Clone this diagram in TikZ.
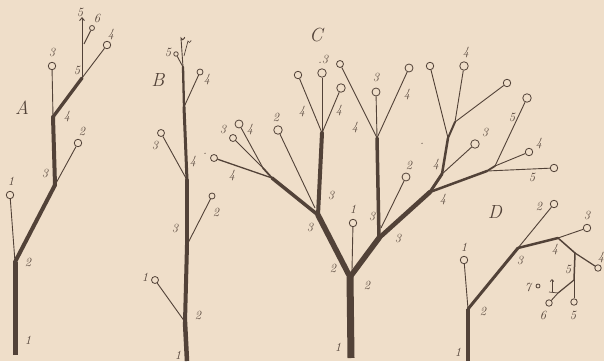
\documentclass[tikz,border=0pt]{standalone}
\usetikzlibrary{arrows.meta}
\definecolor{bg}{RGB}{239,222,201}
\definecolor{ink}{RGB}{82,66,56}
\begin{document}
\begin{tikzpicture}[x=1pt,y=-1pt,
  bud/.style={circle,draw=ink,fill=bg,inner sep=0pt,minimum size=#1,line width=0.8pt},
  bud/.default=7.5pt,
  thin/.style={draw=ink,line width=0.9pt},
  br/.style={draw=ink,line width=#1,line cap=round},
  lbl/.style={text=ink,font=\fontsize{12.5}{12.5}\selectfont\itshape,inner sep=0pt},
  big/.style={text=ink,font=\fontsize{19}{19}\selectfont\itshape,inner sep=0pt}]
\fill[bg] (0,0) rectangle (604,361);
\useasboundingbox (0,0) rectangle (604,361);

% ================= A =================
\coordinate (a0) at (15,355);
\coordinate (a2) at (15,262);
\coordinate (a3) at (55,185);
\coordinate (a4) at (53,117);
\coordinate (a5) at (82,78);
\coordinate (a6) at (84,44);
\coordinate (a7) at (82,17);
\node[bud] (A1) at (10,195) {};
\node[bud] (A2) at (78,143) {};
\node[bud] (A3) at (52,66) {};
\node[bud] (A4) at (107,45) {};
\node[bud=5pt] (A6) at (92,28) {};
\draw[br=5pt,line cap=butt] (a0) -- (a2);
\draw[thin] (a2) -- (A1);
\draw[br=4pt] (a2) -- (a3);
\draw[thin] (a3) -- (A2);
\draw[br=4pt] (a3) -- (a4);
\draw[thin] (a4) -- (A3);
\draw[br=3.3pt] (a4) -- (a5);
\draw[thin] (a5) -- (A4);
\draw[thin,-{Straight Barb[length=3pt,width=5pt]}] (a5) -- (a7);
\draw[thin] (a6) -- (A6);
\node[lbl] (la1) at (11,181) {1};
\node[lbl] (la2) at (28,262) {2};
\node[lbl] (la0) at (28,340) {1};
\node[lbl] (la3) at (45,173) {3};
\node[lbl] (la2b) at (82,131) {2};
\node[lbl] (la4) at (67,117) {4};
\node[lbl] (la3b) at (52,52) {3};
\node[lbl] (la5) at (77,70) {5};
\node[lbl] (la4b) at (111,35) {4};
\node[lbl] (la5b) at (80,12) {5};
\node[lbl] (la6) at (97,18) {6};
\node[big] (lA) at (22,108) {A};

% ================= B =================
\coordinate (b0) at (187,361);
\coordinate (b2) at (185,322);
\coordinate (b3) at (187,245);
\coordinate (b4) at (187,180);
\coordinate (b5) at (184,107);
\coordinate (b6) at (183,67);
\coordinate (b7) at (181,38);
\coordinate (b8) at (184,56);
\node[bud=7pt] (B1) at (155,280) {};
\node[bud=6pt] (B2) at (212,196) {};
\node[bud=7pt] (B3) at (161,133) {};
\node[bud=6pt] (B4) at (200,72) {};
\node[bud=4.5pt] (B5) at (176,54) {};
\draw[br=4.5pt,line cap=butt] (b0) -- (b2);
\draw[thin] (b2) -- (B1);
\draw[br=4pt] (b2) -- (b3);
\draw[thin] (b3) -- (B2);
\draw[br=3.5pt] (b3) -- (b4);
\draw[thin] (b4) -- (B3);
\draw[br=3pt] (b4) -- (b5);
\draw[thin] (b5) -- (B4);
\draw[br=2.3pt] (b5) -- (b6);
\draw[thin] (b6) -- (B5);
\draw[thin] (b6) -- (b7) arc[start angle=180,end angle=-30,radius=1.8];
\draw[thin,line width=0.7pt] (b8) -- (188,41) arc[start angle=180,end angle=-30,radius=1.5];
\node[lbl] (lb1) at (145,277) {1};
\node[lbl] (lb2) at (198,315) {2};
\node[lbl] (lb0) at (178,355) {1};
\node[lbl] (lb3) at (175,228) {3};
\node[lbl] (lb2b) at (216,212) {2};
\node[lbl] (lb3b) at (155,145) {3};
\node[lbl] (lb4) at (193,162) {4};
\node[lbl] (lb4b) at (207,80) {4};
\node[lbl] (lb5) at (168,52) {5};
\node[big] (lB) at (158,80) {B};

% ================= C =================
\coordinate (c0) at (351,358);
\coordinate (cT) at (350,277);
\coordinate (cJ1) at (318,215);
\coordinate (cJ1b) at (315,208);
\coordinate (cJ2) at (272,178);
\coordinate (cJ2b) at (263,168);
\coordinate (cJ3) at (322,133);
\coordinate (cB1) at (352,270);
\coordinate (cK1) at (379,238);
\coordinate (cK1b) at (381,228);
\coordinate (cK2) at (430,192);
\coordinate (cK3) at (377,138);
\coordinate (cL1) at (442,174);
\coordinate (cL2) at (448,138);
\coordinate (cL3) at (455,122);
\coordinate (cM1) at (487,171);
\coordinate (cM2) at (495,166);
\node[bud=8.5pt] (C2) at (278,130) {};
\node[bud=7pt] (C4a) at (214,158) {};
\node[bud=7pt] (C3a) at (233,138) {};
\node[bud=8pt] (C4b) at (239,124) {};
\node[bud=8.5pt] (C3t) at (322,73) {};
\node[bud=7.5pt] (C4c) at (298,75) {};
\node[bud=8.5pt] (C4d) at (341,88) {};
\node[bud=7.5pt] (C1) at (353,223) {};
\node[bud=8pt] (C2r) at (406,177) {};
\node[bud=8pt] (C3m) at (376,92) {};
\node[bud=7pt] (C4e) at (340,64) {};
\node[bud=8pt] (C4f) at (409,68) {};
\node[bud=8.5pt] (C3r) at (475,144) {};
\node[bud=7.5pt] (Cul) at (430,66) {};
\node[bud=8.5pt] (C4g) at (464,66) {};
\node[bud=7.5pt] (Cr1) at (507,83) {};
\node[bud=8.5pt] (C5) at (527,98) {};
\node[bud=7.5pt] (C4h) at (529,152) {};
\node[bud=7.5pt] (C5b) at (554,168) {};
\draw[br=7pt,line cap=butt] (c0) -- (cT);
\draw[br=5.5pt] (cT) -- (cJ1);
\draw[br=3.5pt] (cJ1) -- (cJ2);
\draw[br=1.8pt] (cJ2) -- (cJ2b);
\draw[thin] (cJ2b) -- (C3a);
\draw[thin] (cJ2b) -- (C4b);
\draw[br=1.3pt] (cJ2) -- (C4a);
\draw[br=4pt] (cJ1) -- (cJ3);
\draw[thin] (cJ1b) -- (C2);
\draw[thin] (cJ3) -- (C3t);
\draw[thin] (cJ3) -- (C4c);
\draw[thin] (cJ3) -- (C4d);
\draw[thin] (cB1) -- (C1);
\draw[br=5.5pt] (cT) -- (cK1);
\draw[br=4.5pt] (cK1) -- (cK2);
\draw[br=3.5pt] (cK1) -- (cK3);
\draw[thin] (cK1b) -- (C2r);
\draw[thin] (cK3) -- (C3m);
\draw[thin] (cK3) -- (C4e);
\draw[thin] (cK3) -- (C4f);
\draw[br=3pt] (cK2) -- (cL1);
\draw[thin] (cL1) -- (C3r);
\draw[br=2.5pt] (cL1) -- (cL2);
\draw[thin] (cL2) -- (Cul);
\draw[br=2pt] (cL2) -- (cL3);
\draw[thin] (cL3) -- (C4g);
\draw[thin] (cL3) -- (Cr1);
\draw[br=2.5pt] (cK2) -- (cM1);
\draw[thin] (cM1) -- (C5b);
\draw[br=1.8pt] (cM1) -- (cM2);
\draw[thin] (cM2) -- (C5);
\draw[thin] (cM2) -- (C4h);
\node[big] (lC) at (316,35) {C};
\node[lbl] (lc1) at (323,59) {.3};
\node[lbl] (lc2) at (302,112) {4};
\node[lbl] (lc3) at (339,111) {4};
\node[lbl] (lc4) at (276,117) {2};
\node[lbl] (lc5) at (223,129) {3};
\node[lbl] (lc6) at (250,130) {4};
\node[lbl] (lc7) at (232,176) {4};
\node[lbl] (lc8) at (205,154) {.};
\node[lbl] (lc9) at (331,195) {3};
\node[lbl] (lc10) at (310,227) {3};
\node[lbl] (lc11) at (353,209) {1};
\node[lbl] (lc12) at (333,268) {2};
\node[lbl] (lc13) at (367,285) {2};
\node[lbl] (lc14) at (338,347) {1};
\node[lbl] (lc15) at (372,216) {3};
\node[lbl] (lc16) at (398,238) {3};
\node[lbl] (lc17) at (409,165) {2};
\node[lbl] (lc18) at (376,77) {3};
\node[lbl] (lc19) at (355,128) {4};
\node[lbl] (lc20) at (407,95) {4};
\node[lbl] (lc21) at (436,165) {4};
\node[lbl] (lc22) at (485,132) {3};
\node[lbl] (lc23) at (466,53) {4};
\node[lbl] (lc24) at (443,200) {4};
\node[lbl] (lc25) at (512,117) {5};
\node[lbl] (lc26) at (539,144) {4};
\node[lbl] (lc27) at (532,177) {5};
\node[lbl] (lc28) at (422,144) {.};

% ================= D =================
\coordinate (d0) at (468,361);
\coordinate (d2) at (468,309);
\coordinate (d3) at (518,248);
\coordinate (d4) at (558,238);
\coordinate (d5) at (575,253);
\coordinate (d6) at (574,280);
\coordinate (d7) at (558,293);
\coordinate (d8) at (549,292);
\coordinate (d9) at (552,292);
\coordinate (d10) at (552,279);
\node[bud] (D1) at (464,260) {};
\node[bud] (D2) at (554,204) {};
\node[bud] (D3) at (587,228) {};
\node[bud=6.5pt] (D4) at (598,268) {};
\node[bud=6.5pt] (D5) at (574,302) {};
\node[bud=6.5pt] (D6) at (549,303) {};
\node[bud=4pt] (D7) at (538,286) {};
\draw[br=4pt,line cap=butt] (d0) -- (d2);
\draw[thin] (d2) -- (D1);
\draw[br=3pt] (d2) -- (d3);
\draw[thin] (d3) -- (D2);
\draw[br=2.5pt] (d3) -- (d4);
\draw[thin] (d4) -- (D3);
\draw[br=1.5pt] (d4) -- (d5);
\draw[br=1.2pt] (d5) -- (D4);
\draw[br=1.5pt] (d5) -- (d6);
\draw[thin] (d6) -- (D5);
\draw[br=1.2pt] (d6) -- (d7);
\draw[thin] (d7) -- (D6);
\draw[thin,line width=0.7pt] (d7) -- (d8);
\draw[thin,line width=0.7pt,-{Straight Barb[length=2pt,width=3.5pt]}] (d9) -- (d10);
\node[big] (lD) at (495,212) {D};
\node[lbl] (ld1) at (464,247) {1};
\node[lbl] (ld2) at (483,311) {2};
\node[lbl] (ld3) at (458,352) {1};
\node[lbl] (ld4) at (520,260) {3};
\node[lbl] (ld5) at (539,206) {2};
\node[lbl] (ld6) at (555,250) {4};
\node[lbl] (ld7) at (587,215) {3};
\node[lbl] (ld8) at (601,258) {4};
\node[lbl] (ld9) at (568,269) {5};
\node[lbl] (ld10) at (573,315) {5};
\node[lbl] (ld11) at (543,315) {6};
\node[lbl] (ld12) at (528,287) {7};
\end{tikzpicture}
\end{document}
